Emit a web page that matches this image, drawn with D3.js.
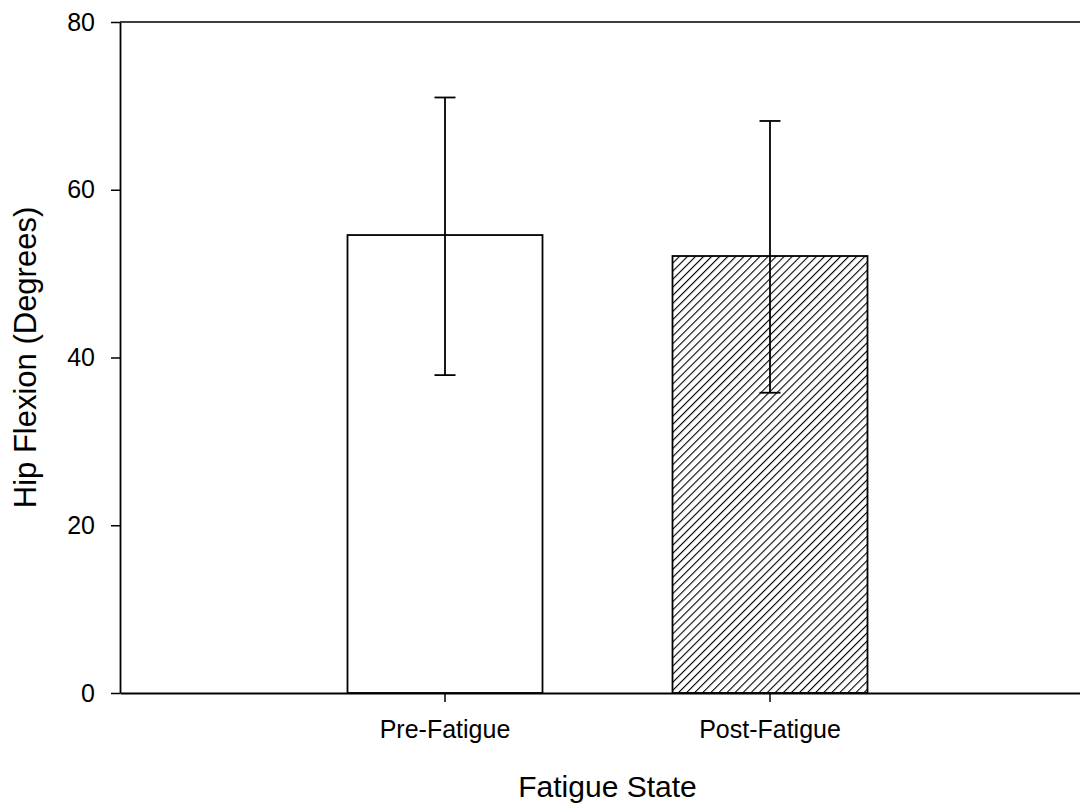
<!DOCTYPE html>
<html>
<head>
<meta charset="utf-8">
<script src="https://d3js.org/d3.v7.min.js"></script>
<style>
  body { margin: 0; background: #fff; }
  text { font-family: "Liberation Sans", Arial, sans-serif; fill: #000; }
</style>
</head>
<body>
<div id="chart"></div>
<script>
// data
var categories = ["Pre-Fatigue", "Post-Fatigue"];
var means = [54.6, 52.1];
var errUpper = [71.0, 68.2];
var errLower = [37.9, 35.8];
var yTicks = [0, 20, 40, 60, 80];

var width = 1080, height = 806;
var margin = { top: 22, left: 120, bottom: 113 };
var plotRight = 1095;

var svg = d3.select("#chart").append("svg")
    .attr("width", width)
    .attr("height", height);

// hatch pattern for the second bar
var hatchStep = 5.7;
var defs = svg.append("defs");
var pat = defs.append("pattern")
    .attr("id", "hatch")
    .attr("patternUnits", "userSpaceOnUse")
    .attr("width", hatchStep)
    .attr("height", hatchStep)
    .attr("patternTransform", "rotate(45)");
pat.append("rect").attr("width", hatchStep).attr("height", hatchStep).attr("fill", "#fff");
pat.append("line")
    .attr("x1", 0).attr("y1", 0).attr("x2", 0).attr("y2", hatchStep)
    .attr("stroke", "#000").attr("stroke-width", 2.2);

var x = d3.scaleBand()
    .domain(categories)
    .range([margin.left, plotRight])
    .paddingInner(0.4)
    .paddingOuter(0.7);

var y = d3.scaleLinear()
    .domain([0, 80])
    .range([height - margin.bottom, margin.top]);

// frame top line
svg.append("line")
    .attr("x1", margin.left).attr("x2", plotRight)
    .attr("y1", y(80)).attr("y2", y(80))
    .attr("stroke", "#000").attr("stroke-width", 1.5);

// bars
svg.selectAll(".bar")
    .data(categories)
    .enter().append("rect")
    .attr("class", "bar")
    .attr("x", function(d) { return x(d); })
    .attr("width", x.bandwidth())
    .attr("y", function(d, i) { return y(means[i]); })
    .attr("height", function(d, i) { return y(0) - y(means[i]); })
    .attr("fill", function(d, i) { return i === 1 ? "url(#hatch)" : "#fff"; })
    .attr("stroke", "#000")
    .attr("stroke-width", 1.8);

// error bars
var capW = 21;
var eb = svg.selectAll(".err")
    .data(categories)
    .enter().append("g")
    .attr("class", "err")
    .attr("stroke", "#000")
    .attr("stroke-width", 1.8);

eb.append("line")
    .attr("x1", function(d) { return x(d) + x.bandwidth() / 2; })
    .attr("x2", function(d) { return x(d) + x.bandwidth() / 2; })
    .attr("y1", function(d, i) { return y(errUpper[i]); })
    .attr("y2", function(d, i) { return y(errLower[i]); });
eb.append("line")
    .attr("x1", function(d) { return x(d) + x.bandwidth() / 2 - capW / 2; })
    .attr("x2", function(d) { return x(d) + x.bandwidth() / 2 + capW / 2; })
    .attr("y1", function(d, i) { return y(errUpper[i]); })
    .attr("y2", function(d, i) { return y(errUpper[i]); });
eb.append("line")
    .attr("x1", function(d) { return x(d) + x.bandwidth() / 2 - capW / 2; })
    .attr("x2", function(d) { return x(d) + x.bandwidth() / 2 + capW / 2; })
    .attr("y1", function(d, i) { return y(errLower[i]); })
    .attr("y2", function(d, i) { return y(errLower[i]); });

// y axis
var yAxis = svg.append("g")
    .attr("transform", "translate(" + margin.left + ",0)")
    .call(d3.axisLeft(y).tickValues(yTicks).tickSize(9).tickPadding(16).tickSizeOuter(0));
yAxis.select(".domain").attr("stroke-width", 1.8);
yAxis.selectAll(".tick line").attr("stroke-width", 1.5);
yAxis.selectAll(".tick text")
    .style("font-size", "25px")
    .attr("font-family", null);

// x axis
var xAxis = svg.append("g")
    .attr("transform", "translate(0," + y(0) + ")")
    .call(d3.axisBottom(x).tickSize(9).tickPadding(18).tickSizeOuter(0));
xAxis.select(".domain").attr("stroke-width", 1.8);
xAxis.selectAll(".tick line").attr("stroke-width", 1.5);
xAxis.selectAll(".tick text")
    .style("font-size", "25px")
    .attr("font-family", null);

// axis titles
svg.append("text")
    .attr("transform", "translate(36," + ((y(0) + y(80)) / 2) + ") rotate(-90)")
    .attr("text-anchor", "middle")
    .style("font-size", "31px")
    .text("Hip Flexion (Degrees)");

svg.append("text")
    .attr("x", (x("Pre-Fatigue") + x("Post-Fatigue") + x.bandwidth()) / 2)
    .attr("y", 797)
    .attr("text-anchor", "middle")
    .style("font-size", "30px")
    .text("Fatigue State");
</script>
</body>
</html>
